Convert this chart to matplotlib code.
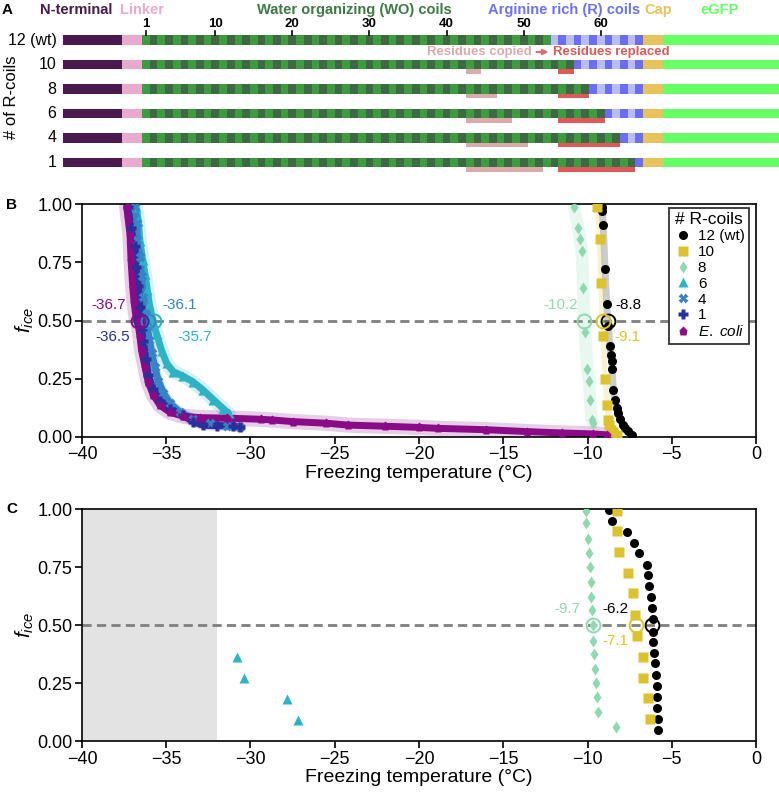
import numpy as np
import matplotlib
matplotlib.use('Agg')
import matplotlib.pyplot as plt
from matplotlib.patches import Rectangle

plt.rcParams['font.family'] = ['Liberation Sans', 'DejaVu Sans']
plt.rcParams['mathtext.fontset'] = 'custom'
plt.rcParams['mathtext.it'] = 'Liberation Sans:italic'
plt.rcParams['mathtext.rm'] = 'Liberation Sans'

# ---- panel A : construct layout (in residues) ----
row_labels = ['12 (wt)', '10', '8', '6', '4', '1']
wo_end = [53, 56, 58, 60, 62, 64]        # last water-organizing residue
n_swap = [0, 2, 4, 6, 8, 10]             # residues copied / replaced
copy_start = 42
replace_start = 54
n_res = 65
res_ticks = [1, 10, 20, 30, 40, 50, 60]

# ---- panel B : full freezing curves ----
wt_T = [-9.16, -9.12, -9.06, -8.96, -8.86, -8.77, -8.66, -8.62, -8.56, -8.53,
        -8.47, -8.37, -8.27, -8.17, -8.07, -7.92, -7.78, -7.58, -7.38]
wt_f = [0.99, 0.97, 0.91, 0.72, 0.57, 0.475, 0.39, 0.35, 0.325, 0.29,
        0.20, 0.16, 0.125, 0.10, 0.075, 0.05, 0.037, 0.023, 0.009]
r10_T = [-9.42, -9.26, -9.20, -9.06, -8.96, -8.83, -8.77, -8.72, -8.62, -8.5, -8.27]
r10_f = [0.99, 0.85, 0.66, 0.435, 0.25, 0.137, 0.072, 0.05, 0.03, 0.02, 0.007]
r8_T = [-10.80, -10.55, -10.45, -10.34, -10.25, -10.15, -10.01, -9.91, -9.85, -9.75, -9.66]
r8_f = [0.99, 0.90, 0.85, 0.80, 0.64, 0.45, 0.29, 0.24, 0.16, 0.07, 0.06]
r6_T = [-36.8, -36.66, -36.56, -36.40, -36.26, -36.12, -36.0, -35.77, -35.57,
        -35.27, -34.97, -34.58, -33.99, -33.39, -32.80, -32.21, -31.61, -31.3]
r6_f = [0.99, 0.93, 0.84, 0.76, 0.70, 0.63, 0.57, 0.49, 0.44,
        0.37, 0.315, 0.28, 0.26, 0.235, 0.20, 0.16, 0.12, 0.10]
r4_T = [-36.85, -36.75, -36.72, -36.56, -36.46, -36.36, -36.20, -36.12, -36.0,
        -35.86, -35.67, -35.47, -35.17, -34.78, -34.18, -33.39, -32.40, -31.41, -30.62]
r4_f = [0.99, 0.92, 0.845, 0.775, 0.69, 0.60, 0.53, 0.47, 0.415,
        0.36, 0.30, 0.24, 0.19, 0.145, 0.105, 0.078, 0.057, 0.046, 0.043]
r1_T = [-37.25, -37.11, -36.85, -36.80, -36.66, -36.56, -36.46, -36.36, -36.20,
        -36.07, -35.77, -35.37, -34.78, -33.99, -33.39, -32.80, -32.01, -31.02, -30.62]
r1_f = [0.99, 0.90, 0.82, 0.73, 0.65, 0.56, 0.465, 0.41, 0.335,
        0.265, 0.205, 0.155, 0.12, 0.092, 0.064, 0.049, 0.047, 0.047, 0.04]
ec_T = [-37.35, -37.15, -37.09, -36.99, -36.91, -36.80, -36.69, -36.56, -36.46,
        -36.26, -36.07, -35.77, -35.37, -34.78, -33.99, -33.0, -31.4, -29.4, -28.7,
        -27.5, -25.5, -24.2, -22.0, -20.0, -18.9, -16.0, -13.6, -11.5, -9.67, -8.84]
ec_f = [0.99, 0.87, 0.76, 0.645, 0.58, 0.515, 0.495, 0.43, 0.37,
        0.30, 0.235, 0.18, 0.135, 0.105, 0.088, 0.082, 0.08, 0.075, 0.072,
        0.065, 0.058, 0.05, 0.045, 0.04, 0.036, 0.03, 0.022, 0.016, 0.012, 0.008]

# ---- panel C ----
wtC_T = [-8.71, -8.56, -7.64, -7.24, -6.93, -6.49, -6.39, -6.33, -6.23, -6.19, -6.13,
         -6.10, -6.10, -6.05, -5.99, -5.95, -5.89, -5.89, -5.86, -5.80, -5.80]
wtC_f = [0.997, 0.951, 0.903, 0.856, 0.810, 0.760, 0.716, 0.669, 0.623, 0.573, 0.525,
         0.472, 0.429, 0.381, 0.335, 0.285, 0.237, 0.191, 0.141, 0.094, 0.047]
r10C_T = [-8.27, -8.23, -8.11, -7.58, -7.32, -7.18, -7.08, -6.72, -6.72, -6.39, -6.29]
r10C_f = [0.994, 0.908, 0.817, 0.726, 0.637, 0.544, 0.453, 0.364, 0.273, 0.184, 0.094]
r8C_T = [-10.09, -10.09, -9.99, -9.91, -9.85, -9.81, -9.79, -9.75, -9.69, -9.66,
         -9.61, -9.55, -9.50, -9.45, -9.39, -8.31]
r8C_f = [0.994, 0.939, 0.870, 0.812, 0.750, 0.688, 0.623, 0.566, 0.501, 0.433,
         0.374, 0.310, 0.249, 0.189, 0.126, 0.062]
r6C_T = [-30.78, -30.37, -27.85, -27.20]
r6C_f = [0.364, 0.271, 0.181, 0.091]

t50_B = {'12': -8.8, '10': -9.1, '8': -10.2, '6': -35.7, '4': -36.1, '1': -36.5, 'ec': -36.7}
t50_C = {'12': -6.2, '10': -7.1, '8': -9.7}
limit_T = -32.0

col = {'12': 'black', '10': '#dcc22c', '8': '#8fd9b0', '6': '#2eb3c4',
       '4': '#3683c6', '1': '#2b2f9c', 'ec': '#8a0a87'}
mk = {'12': 'o', '10': 's', '8': 'd', '6': '^', '4': 'X', '1': 'P', 'ec': 'p'}
names = {'12': '12 (wt)', '10': '10', '8': '8', '6': '6', '4': '4', '1': '1',
         'ec': r'$E.\ coli$'}

fig = plt.figure(figsize=(7.79, 7.99), dpi=100)

# ================= panel A =================
axA = fig.add_axes([0, 1 - 190 / 799, 1, 190 / 799])
ppr = 7.71
axA.set_xlim(-142 / ppr, (779 - 142) / ppr)
axA.set_ylim(190, 0)
axA.axis('off')

row_y = [40, 64.5, 89, 113.5, 138, 162.5]
bh = 9.3
for lab, y, we, ns in zip(row_labels, row_y, wo_end, n_swap):
    top = y - bh / 2
    axA.add_patch(Rectangle((-10.25, top), 7.66, bh, color='#4a1a4f', lw=0))
    axA.add_patch(Rectangle((-2.59, top), 2.59, bh, color='#e8aacd', lw=0))
    for k in range(1, n_res + 1):
        if k <= we:
            c = '#3f9b3f' if k % 2 else '#3d6a42'
        else:
            c = '#b9bdf6' if k % 2 == 0 else '#6b6ef5'
        axA.add_patch(Rectangle((k - 1, top), 1.0, bh, color=c, lw=0))
    axA.add_patch(Rectangle((n_res, top), 2.6, bh, color='#e8c35c', lw=0))
    axA.add_patch(Rectangle((n_res + 2.6, top), 20, bh, color='#66ff66', lw=0))
    if ns:
        axA.add_patch(Rectangle((copy_start, y + bh / 2 + 0.3), ns, 4.5, color='#dcaaaa', lw=0))
        axA.add_patch(Rectangle((replace_start, y + bh / 2 + 0.3), ns, 4.5, color='#e05858', lw=0))
    axA.text(-11.1, y, lab, ha='right', va='center', fontsize=11.5)

for r in res_ticks:
    axA.plot([r - 0.5, r - 0.5], [30.5, 35.3], color='black', lw=1.2)
    axA.text(r - 0.5, 24, str(r), ha='center', va='center', fontsize=9.5, fontweight='bold')

axA.text(-16.9, 97, '# of R-coils', rotation=90, ha='center', va='center', fontsize=12)
top_labels = [('N-terminal', -8.5, '#4a1a4f'), ('Linker', -0.05, '#e8aacd'),
              ('Water organizing (WO) coils', 27.5, '#3d7a45'),
              ('Arginine rich (R) coils', 54.8, '#6d71f2'),
              ('Cap', 67.0, '#e8c35c'), ('eGFP', 74.9, '#66ff66')]
for t, x, c in top_labels:
    axA.text(x, 10, t, ha='center', va='center', fontsize=10.5, fontweight='bold', color=c)
axA.text(50.6, 52, 'Residues copied', ha='right', va='center', fontsize=9.5,
         fontweight='bold', color='#dcaaaa')
axA.text(53.3, 52, 'Residues replaced', ha='left', va='center', fontsize=9.5,
         fontweight='bold', color='#e05858')
axA.annotate('', xy=(53.1, 52), xytext=(50.8, 52),
             arrowprops=dict(arrowstyle='-|>', color='#dd6f6f', lw=1.5, mutation_scale=8))
fig.text(2 / 779, 1 - 10 / 799, 'A', fontsize=11, fontweight='bold', va='center')


def style(ax):
    ax.set_xlim(-40, 0)
    ax.set_ylim(0, 1)
    ax.set_xticks(np.arange(-40, 1, 5))
    ax.set_yticks([0, 0.25, 0.5, 0.75, 1.0])
    ax.set_yticklabels(['0.00', '0.25', '0.50', '0.75', '1.00'])
    ax.tick_params(labelsize=13, length=5, width=1.2, pad=2)
    for s in ax.spines.values():
        s.set_linewidth(1.2)
    ax.set_xlabel('Freezing temperature (°C)', fontsize=14, labelpad=1)
    ax.set_ylabel(r'$f_{ice}$', fontsize=15, labelpad=1)
    ax.axhline(0.5, color='#808080', lw=2, ls=(0, (3.3, 1.9)), zorder=0.5)


def series(ax, key, T, f, ms, band, chain=False, label=True):
    c = col[key]
    ax.plot(T, f, color=c, lw=band, alpha=0.2, solid_capstyle='round', zorder=1)
    if chain:
        ax.plot(T, f, color=c, lw=5, zorder=2, solid_capstyle='round')
    ax.plot(T, f, ls='none', marker=mk[key], color=c, ms=ms, mec='none', zorder=3,
            label=names[key] if label else None)


# ================= panel B =================
axB = fig.add_axes([82 / 779, 1 - 436.7 / 799, 674 / 779, 232.4 / 799])
style(axB)
series(axB, '12', wt_T, wt_f, 6.5, 5)
series(axB, '10', r10_T, r10_f, 6.5, 4)
series(axB, '8', r8_T, r8_f, 6.5, 9)
series(axB, '6', r6_T, r6_f, 6.5, 10, chain=True)
series(axB, '4', r4_T, r4_f, 6.5, 7, chain=True)
series(axB, '1', r1_T, r1_f, 6.5, 7, chain=True)
series(axB, 'ec', ec_T, ec_f, 6.5, 11, chain=True)
for k, t in t50_B.items():
    axB.plot(t, 0.5, marker='o', ms=10, mfc='none', mec=col[k], mew=1.4, zorder=4)

lbl_B = [('ec', -38.4, 0.567), ('4', -34.2, 0.567), ('1', -38.15, 0.43), ('6', -33.3, 0.43),
         ('8', -11.6, 0.567), ('12', -7.6, 0.567), ('10', -7.65, 0.43)]
for k, x, y in lbl_B:
    axB.text(x, y, '%.1f' % t50_B[k], color=col[k], fontsize=11, ha='center', va='center')

leg = axB.legend(loc='upper right', bbox_to_anchor=(0.99, 0.985), title='# R-coils',
                 fontsize=11, title_fontsize=12.5, frameon=True, fancybox=False,
                 edgecolor='#333333', framealpha=1, borderpad=0.3, labelspacing=0.12,
                 handletextpad=0.4, handlelength=1.2, borderaxespad=0)
leg.get_frame().set_linewidth(1.3)
fig.text(6 / 779, 1 - 205 / 799, 'B', fontsize=11, fontweight='bold', va='center')

# ================= panel C =================
axC = fig.add_axes([82 / 779, 1 - 741 / 799, 674 / 779, 231.7 / 799])
style(axC)
axC.axvspan(-40, limit_T, color='#e3e3e3', lw=0, zorder=0)
axC.plot(wtC_T, wtC_f, ls='none', marker='o', color=col['12'], ms=6.5, mec='none', zorder=3)
axC.plot(r10C_T, r10C_f, ls='none', marker='s', color=col['10'], ms=6.5, mec='none', zorder=3)
axC.plot(r8C_T, r8C_f, ls='none', marker='d', color=col['8'], ms=6.5, mec='none', zorder=3)
axC.plot(r6C_T, r6C_f, ls='none', marker='^', color=col['6'], ms=7, mec='none', zorder=3)
for k, t in t50_C.items():
    axC.plot(t, 0.5, marker='o', ms=10, mfc='none', mec=col[k], mew=1.4, zorder=4)
lbl_C = [('8', -11.2, 0.57), ('12', -8.37, 0.57), ('10', -8.37, 0.43)]
for k, x, y in lbl_C:
    axC.text(x, y, '%.1f' % t50_C[k], color=col[k], fontsize=11, ha='center', va='center')
fig.text(6 / 779, 1 - 509 / 799, 'C', fontsize=11, fontweight='bold', va='center')

fig.savefig('out.png', dpi=100)
